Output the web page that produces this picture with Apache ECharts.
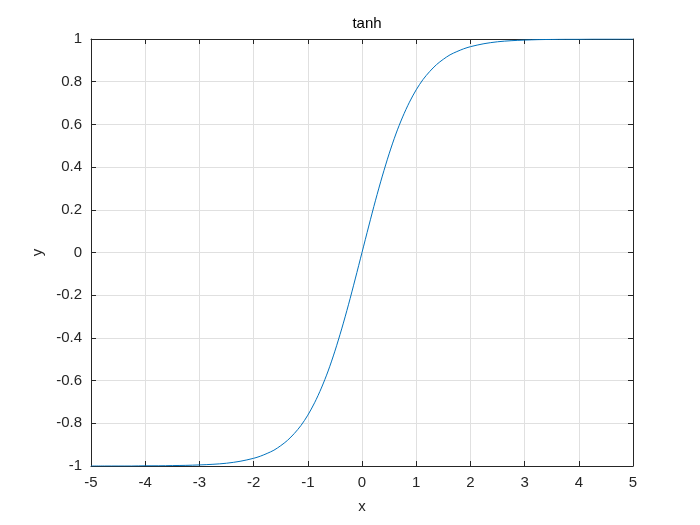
<!DOCTYPE html>
<html><head><meta charset="utf-8">
<script src="https://cdn.jsdelivr.net/npm/echarts@6/dist/echarts.min.js"></script>
<style>html,body{margin:0;padding:0;background:#fff}#c{width:700px;height:525px}</style>
</head><body><div id="c"></div>
<script>
var titleText = 'tanh';
var xName = 'x';
var yName = 'y';
var xValues = [-5,-4.75,-4.5,-4.25,-4,-3.75,-3.5,-3.25,-3,-2.75,-2.5,-2.25,-2,-1.875,-1.75,-1.625,-1.5,-1.375,-1.25,-1.125,-1,-0.875,-0.75,-0.625,-0.5,-0.375,-0.25,-0.125,0,0.125,0.25,0.375,0.5,0.625,0.75,0.875,1,1.125,1.25,1.375,1.5,1.625,1.75,1.875,2,2.25,2.5,2.75,3,3.25,3.5,3.75,4,4.25,4.5,4.75,5];
var yValues = [-1.000,-1.000,-1.000,-1.000,-0.999,-0.999,-0.998,-0.997,-0.995,-0.992,-0.987,-0.978,-0.964,-0.954,-0.941,-0.926,-0.905,-0.880,-0.848,-0.810,-0.762,-0.704,-0.635,-0.555,-0.462,-0.358,-0.245,-0.124,0,0.124,0.245,0.358,0.462,0.555,0.635,0.704,0.762,0.810,0.848,0.880,0.905,0.926,0.941,0.954,0.964,0.978,0.987,0.992,0.995,0.997,0.998,0.999,0.999,1.000,1.000,1.000,1.000];
var xTicks = [-5,-4,-3,-2,-1,0,1,2,3,4,5];
var yTicks = [-1,-0.8,-0.6,-0.4,-0.2,0,0.2,0.4,0.6,0.8,1];

var pts = xValues.map(function(x,i){return [x, yValues[i]];});
var font = 'Liberation Sans, Arial, sans-serif';
var txt = '#262626';
function fmt(v){ var r = Math.round(v*10)/10; return r === 0 ? '0' : String(r); }
var grid = {left:91, top:39, width:542, height:427};
var axisLine = {show:true, onZero:false, lineStyle:{color:'#262626', width:1}};
var tick = {show:true, inside:true, length:5, lineStyle:{color:'#262626'}};
var chart = echarts.init(document.getElementById('c'));
chart.setOption({
  animation:false,
  backgroundColor:'#fff',
  title:{text:titleText, left:362, top:11, textAlign:'center', textStyle:{fontFamily:font, fontSize:15, fontWeight:'normal', color:'#000'}},
  grid:grid,
  xAxis:[
    {type:'value', min:-5, max:5, interval:1, position:'bottom', name:xName, nameLocation:'middle', nameGap:33,
     nameTextStyle:{fontFamily:font, fontSize:15, color:txt},
     axisLine:axisLine, axisTick:tick,
     axisLabel:{fontFamily:font, fontSize:15, color:txt, margin:9, formatter:fmt},
     splitLine:{show:true, lineStyle:{color:'#e0e0e0', width:1}}},
    {type:'value', min:-5, max:5, interval:1, position:'top', axisLine:axisLine, axisTick:tick, axisLabel:{show:false}, splitLine:{show:false}}
  ],
  yAxis:[
    {type:'value', min:-1, max:1, interval:0.2, position:'left', name:yName, nameLocation:'middle', nameGap:46,
     nameTextStyle:{fontFamily:font, fontSize:15, color:txt},
     axisLine:axisLine, axisTick:tick,
     axisLabel:{fontFamily:font, fontSize:15, color:txt, margin:9, formatter:fmt},
     splitLine:{show:true, lineStyle:{color:'#e0e0e0', width:1}}},
    {type:'value', min:-1, max:1, interval:0.2, position:'right', axisLine:axisLine, axisTick:tick, axisLabel:{show:false}, splitLine:{show:false}}
  ],
  series:[{type:'line', data:pts, showSymbol:false, smooth:0.3, lineStyle:{color:'#0072BD', width:1}, z:5}]
});
</script></body></html>
